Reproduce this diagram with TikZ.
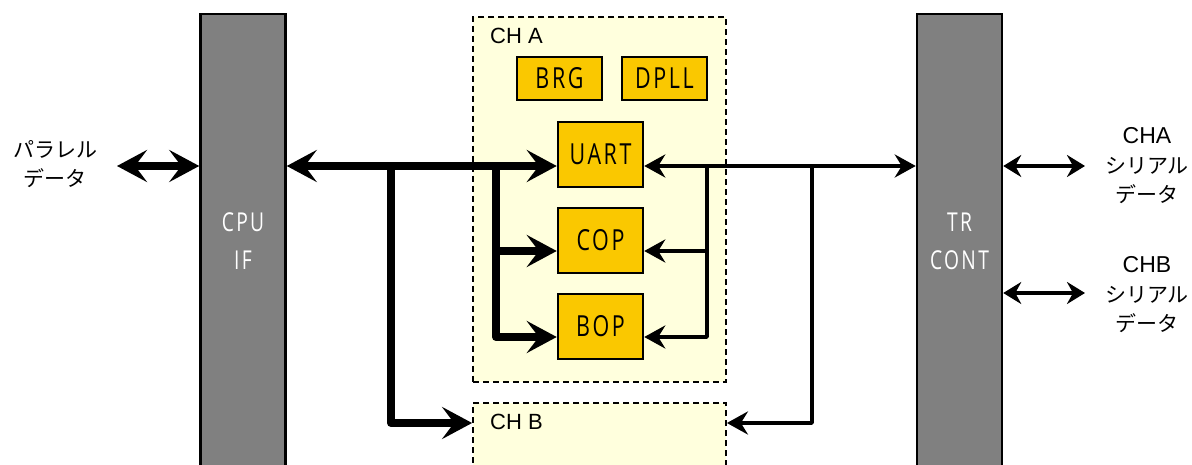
\documentclass[tikz,border=0pt]{standalone}
\usepackage{fontspec}
\setmainfont{Liberation Sans}
\newfontfamily\jpfont{Noto Sans CJK JP}
\newfontfamily\boxfont[FakeStretch=0.74, LetterSpace=9]{Open Sans}
\newcommand\latinsize{\fontsize{23}{29.5}\selectfont}
\usetikzlibrary{arrows.meta}

\definecolor{blockgray}{RGB}{128,128,128}
\definecolor{unitorange}{RGB}{250,200,0}
\definecolor{chyellow}{RGB}{255,255,221}

\tikzset{
  bighead/.tip={Stealth[length=30pt,width=32pt,inset=12pt]},
  smallhead/.tip={Stealth[length=21pt,width=23pt,inset=7pt]},
  midhead/.tip={Stealth[length=18pt,width=22pt,inset=6pt]},
  ifblock/.style={draw=black, line width=2.5pt, fill=blockgray, minimum width=85pt, minimum height=490pt, inner sep=0pt},
  iftext/.style={text=white, align=center, inner sep=0pt, font=\boxfont\fontsize{26}{38}\selectfont},
  unit/.style={draw=black, line width=2.5pt, fill=unitorange, minimum width=85pt, minimum height=65pt, inner sep=0pt, font=\boxfont\fontsize{29}{30}\selectfont},
  channel/.style={draw=black, line width=1.8pt, dash pattern=on 6pt off 4pt, fill=chyellow, inner sep=0pt, minimum width=253pt},
  chlabel/.style={anchor=west, inner sep=0pt, font=\fontsize{22}{24}\selectfont},
  datalbl/.style={align=center, inner sep=0pt, font=\fontsize{21}{29.5}\selectfont}
}
\tikzset{
  fatbus/.style={line width=8pt, line join=round},
  thinbus/.style={line width=3.5pt, line join=round}
}

\begin{document}
\begin{tikzpicture}[x=1pt,y=-1pt]
\useasboundingbox (0,0) rectangle (1192,465);
\clip (0,0) rectangle (1192,465);

% Bus levels
\coordinate (ybus) at (0,166);
\coordinate (ycop) at (0,251);
\coordinate (ybop) at (0,337);
\coordinate (ychb) at (0,423);
\coordinate (yserb) at (0,293);

% Draw channels
\node[channel, minimum height=365pt] (cha) at (599.5,199.5) {};
\node[channel, minimum height=120pt] (chb) at (599.5,463) {};
\node[chlabel] (chalbl) at (490,36) {CH A};
\node[chlabel] (chblbl) at (490,422) {CH B};

% Draw units
\node[unit, minimum height=43pt] (brg) at (559.5,78.5) {BRG};
\node[unit, minimum height=43pt] (dpll) at (664.5,78.5) {DPLL};
\node[unit] (uart) at (600.5,154.5) {UART};
\node[unit] (cop) at (600.5,240.5) {COP};
\node[unit] (bop) at (600.5,326.5) {BOP};

% Draw interface blocks
\node[ifblock] (cpu) at (243,259) {};
\node[ifblock] (trc) at (959.5,259) {};
\node[iftext] (cputxt) at (243,241) {CPU\\IF};
\node[iftext] (trctxt) at (959.5,241) {TR\\CONT};

% Bus taps
\coordinate (tapb) at (391,166);
\coordinate (tapa) at (496,166);
\coordinate (tapu) at (707,166);
\coordinate (tapt) at (812,166);

% Parallel bus
\draw[fatbus, bighead-bighead] (cpu.east |- ybus) -- (uart.west |- ybus);
\draw[fatbus, -bighead] (tapa) |- (cop.west |- ycop);
\draw[fatbus, -bighead] (tapa) |- (bop.west |- ybop);
\draw[fatbus, -bighead] (tapb) |- (chb.west |- ychb);

% Serial bus
\draw[thinbus, smallhead-smallhead] (uart.east |- ybus) -- (trc.west |- ybus);
\draw[thinbus, -smallhead] (tapu) |- (cop.east |- ycop);
\draw[thinbus, -smallhead] (tapu) |- (bop.east |- ybop);
\draw[thinbus, -smallhead] (tapt) |- (chb.east |- ychb);

% External data
\coordinate (pin) at (117,166);
\coordinate (souta) at (1085,166);
\coordinate (soutb) at (1085,293);
\draw[fatbus, bighead-bighead] (pin) -- (cpu.west |- ybus);
\draw[thinbus, midhead-midhead] (trc.east |- souta) -- (souta);
\draw[thinbus, midhead-midhead] (trc.east |- soutb) -- (soutb);

% Data labels
\node[datalbl] (plbl) at (55,164) {{\jpfont パラレル}\\{\jpfont データ}};
\node[datalbl] (salbl) at (1147,166) {{\latinsize CHA}\\{\jpfont シリアル}\\{\jpfont データ}};
\node[datalbl] (sblbl) at (1147,295) {{\latinsize CHB}\\{\jpfont シリアル}\\{\jpfont データ}};
\end{tikzpicture}
\end{document}
